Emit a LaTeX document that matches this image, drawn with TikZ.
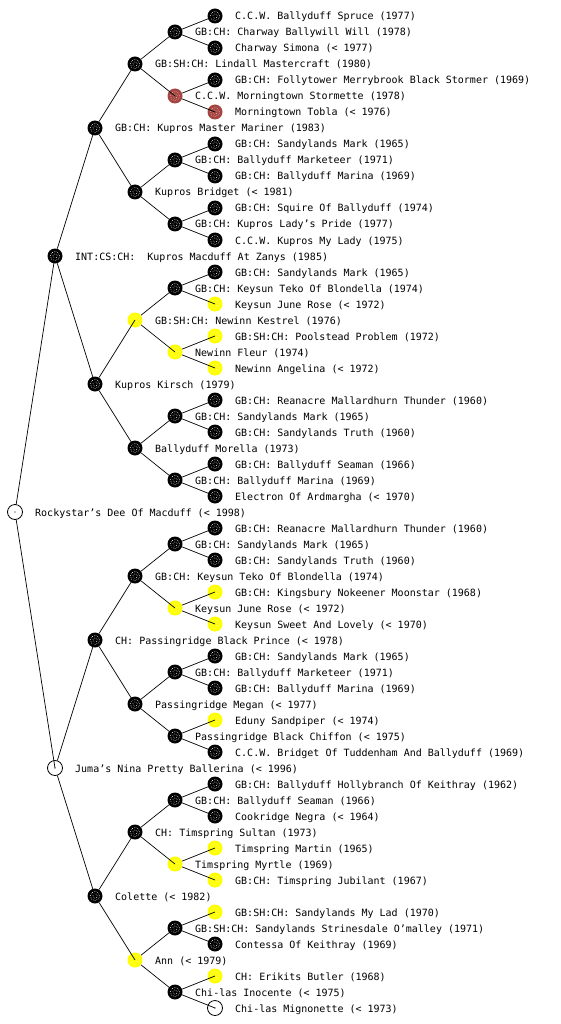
\documentclass[tikz,border=0pt]{standalone}
\usepackage{fontspec}
\setmonofont{DejaVu Sans Mono}
\definecolor{dogbrown}{RGB}{165,68,64}
\definecolor{dogyellow}{RGB}{255,255,0}
\tikzset{
  dog/.style={circle, minimum size=15pt, inner sep=0pt},
  dots/.style={path picture={
      \draw[#1, line width=0.6pt, dash pattern=on 0.6pt off 1.3pt]
        (path picture bounding box.center) circle (4.6pt);
      \draw[#1, line width=0.6pt, dash pattern=on 0.6pt off 1.3pt]
        (path picture bounding box.center) circle (2.2pt);}},
  blk/.style={dog, fill=black, dots=white},
  brn/.style={dog, fill=dogbrown, dots=white!70!dogbrown},
  ylw/.style={dog, fill=dogyellow, dots=white!60!dogyellow},
  wht/.style={dog, fill=white, draw=black, line width=0.8pt,
      path picture={\fill[black] (path picture bounding box.center) circle (0.7pt);}},
  dogname/.style={anchor=base west, inner sep=0pt,
      font=\ttfamily\fontsize{10}{12}\selectfont},
  edge/.style={draw=black, line width=0.7pt}
}
\newcommand\dogat[4]{%
  \node[#3] (n#1) at ({15+40*#2},{-16*#1}) {};
  \node[dogname] (t#1) at ({35+40*#2},{-16*#1-4}) {\frenchspacing #4};}
\begin{document}
\begin{tikzpicture}[x=1pt,y=1pt]
\useasboundingbox (0,0) rectangle (560,-1024);
\dogat{1}{5}{blk}{C.C.W. Ballyduff Spruce (1977)}
\dogat{2}{4}{blk}{GB:CH: Charway Ballywill Will (1978)}
\dogat{3}{5}{blk}{Charway Simona (< 1977)}
\dogat{4}{3}{blk}{GB:SH:CH: Lindall Mastercraft (1980)}
\dogat{5}{5}{blk}{GB:CH: Follytower Merrybrook Black Stormer (1969)}
\dogat{6}{4}{brn}{C.C.W. Morningtown Stormette (1978)}
\dogat{7}{5}{brn}{Morningtown Tobla (< 1976)}
\dogat{8}{2}{blk}{GB:CH: Kupros Master Mariner (1983)}
\dogat{9}{5}{blk}{GB:CH: Sandylands Mark (1965)}
\dogat{10}{4}{blk}{GB:CH: Ballyduff Marketeer (1971)}
\dogat{11}{5}{blk}{GB:CH: Ballyduff Marina (1969)}
\dogat{12}{3}{blk}{Kupros Bridget (< 1981)}
\dogat{13}{5}{blk}{GB:CH: Squire Of Ballyduff (1974)}
\dogat{14}{4}{blk}{GB:CH: Kupros Lady’s Pride (1977)}
\dogat{15}{5}{blk}{C.C.W. Kupros My Lady (1975)}
\dogat{16}{1}{blk}{INT:CS:CH:\ \ Kupros Macduff At Zanys (1985)}
\dogat{17}{5}{blk}{GB:CH: Sandylands Mark (1965)}
\dogat{18}{4}{blk}{GB:CH: Keysun Teko Of Blondella (1974)}
\dogat{19}{5}{ylw}{Keysun June Rose (< 1972)}
\dogat{20}{3}{ylw}{GB:SH:CH: Newinn Kestrel (1976)}
\dogat{21}{5}{ylw}{GB:SH:CH: Poolstead Problem (1972)}
\dogat{22}{4}{ylw}{Newinn Fleur (1974)}
\dogat{23}{5}{ylw}{Newinn Angelina (< 1972)}
\dogat{24}{2}{blk}{Kupros Kirsch (1979)}
\dogat{25}{5}{blk}{GB:CH: Reanacre Mallardhurn Thunder (1960)}
\dogat{26}{4}{blk}{GB:CH: Sandylands Mark (1965)}
\dogat{27}{5}{blk}{GB:CH: Sandylands Truth (1960)}
\dogat{28}{3}{blk}{Ballyduff Morella (1973)}
\dogat{29}{5}{blk}{GB:CH: Ballyduff Seaman (1966)}
\dogat{30}{4}{blk}{GB:CH: Ballyduff Marina (1969)}
\dogat{31}{5}{blk}{Electron Of Ardmargha (< 1970)}
\dogat{32}{0}{wht}{Rockystar’s Dee Of Macduff (< 1998)}
\dogat{33}{5}{blk}{GB:CH: Reanacre Mallardhurn Thunder (1960)}
\dogat{34}{4}{blk}{GB:CH: Sandylands Mark (1965)}
\dogat{35}{5}{blk}{GB:CH: Sandylands Truth (1960)}
\dogat{36}{3}{blk}{GB:CH: Keysun Teko Of Blondella (1974)}
\dogat{37}{5}{ylw}{GB:CH: Kingsbury Nokeener Moonstar (1968)}
\dogat{38}{4}{ylw}{Keysun June Rose (< 1972)}
\dogat{39}{5}{ylw}{Keysun Sweet And Lovely (< 1970)}
\dogat{40}{2}{blk}{CH: Passingridge Black Prince (< 1978)}
\dogat{41}{5}{blk}{GB:CH: Sandylands Mark (1965)}
\dogat{42}{4}{blk}{GB:CH: Ballyduff Marketeer (1971)}
\dogat{43}{5}{blk}{GB:CH: Ballyduff Marina (1969)}
\dogat{44}{3}{blk}{Passingridge Megan (< 1977)}
\dogat{45}{5}{ylw}{Eduny Sandpiper (< 1974)}
\dogat{46}{4}{blk}{Passingridge Black Chiffon (< 1975)}
\dogat{47}{5}{blk}{C.C.W. Bridget Of Tuddenham And Ballyduff (1969)}
\dogat{48}{1}{wht}{Juma’s Nina Pretty Ballerina (< 1996)}
\dogat{49}{5}{blk}{GB:CH: Ballyduff Hollybranch Of Keithray (1962)}
\dogat{50}{4}{blk}{GB:CH: Ballyduff Seaman (1966)}
\dogat{51}{5}{blk}{Cookridge Negra (< 1964)}
\dogat{52}{3}{blk}{CH: Timspring Sultan (1973)}
\dogat{53}{5}{ylw}{Timspring Martin (1965)}
\dogat{54}{4}{ylw}{Timspring Myrtle (1969)}
\dogat{55}{5}{ylw}{GB:CH: Timspring Jubilant (1967)}
\dogat{56}{2}{blk}{Colette (< 1982)}
\dogat{57}{5}{ylw}{GB:SH:CH: Sandylands My Lad (1970)}
\dogat{58}{4}{blk}{GB:SH:CH: Sandylands Strinesdale O’malley (1971)}
\dogat{59}{5}{blk}{Contessa Of Keithray (1969)}
\dogat{60}{3}{ylw}{Ann (< 1979)}
\dogat{61}{5}{ylw}{CH: Erikits Butler (1968)}
\dogat{62}{4}{blk}{Chi-las Inocente (< 1975)}
\dogat{63}{5}{wht}{Chi-las Mignonette (< 1973)}
% connectors: parent border -> child centre
\draw[edge] (n32) -- (n16.center);
\draw[edge] (n32) -- (n48.center);
\foreach \p in {16,48}{
  \pgfmathtruncatemacro\a{\p-8}\pgfmathtruncatemacro\b{\p+8}
  \draw[edge] (n\p) -- (n\a.center); \draw[edge] (n\p) -- (n\b.center);}
\foreach \p in {8,24,40,56}{
  \pgfmathtruncatemacro\a{\p-4}\pgfmathtruncatemacro\b{\p+4}
  \draw[edge] (n\p) -- (n\a.center); \draw[edge] (n\p) -- (n\b.center);}
\foreach \p in {4,12,...,60}{
  \pgfmathtruncatemacro\a{\p-2}\pgfmathtruncatemacro\b{\p+2}
  \draw[edge] (n\p) -- (n\a.center); \draw[edge] (n\p) -- (n\b.center);}
\foreach \p in {2,6,...,62}{
  \pgfmathtruncatemacro\a{\p-1}\pgfmathtruncatemacro\b{\p+1}
  \draw[edge] (n\p) -- (n\a.center); \draw[edge] (n\p) -- (n\b.center);}
\end{tikzpicture}
\end{document}
